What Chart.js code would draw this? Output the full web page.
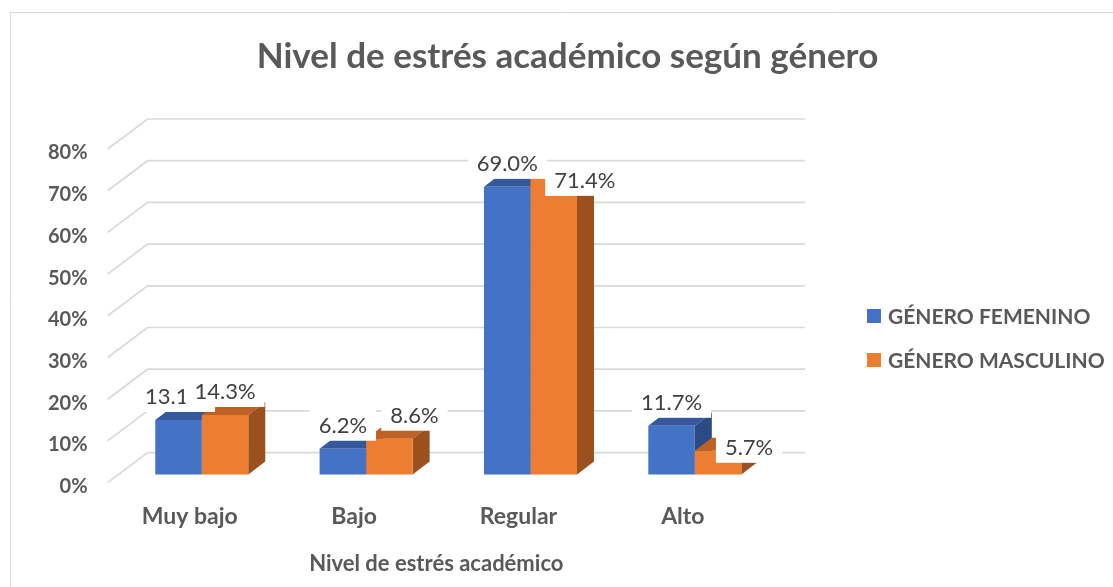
<!DOCTYPE html>
<html>
<head>
<meta charset="utf-8">
<script src="https://cdn.jsdelivr.net/npm/chart.js@4.4.1/dist/chart.umd.min.js"></script>
<style>
  html, body { margin: 0; padding: 0; background: #fff; }
</style>
</head>
<body>
<canvas id="chart" width="1113" height="587"></canvas>
<script>
const categories = ['Muy bajo', 'Bajo', 'Regular', 'Alto'];
const femenino = [13.1, 6.2, 69.0, 11.7];
const masculino = [14.3, 8.6, 71.4, 5.7];
const yTicks = [0, 10, 20, 30, 40, 50, 60, 70, 80];

// where the value labels sit, relative to the top front edge of each bar
const labelDx = [[-3, 0, 0, 0], [0, 25, 31, 31]];
const labelDy = [[-24, -24, -24, -24], [-24, -24, 3, -4]];

const FONT = 'Lato, "Open Sans", sans-serif';
const GREY = '#595959';

// fake 3D: bar front offset, bar depth, wall depth
const front = { x: 12, y: -8 };
const bar = { x: 17, y: -13 };
const wall = { x: 40, y: -30 };

const shades = [
    { face: '#4472C4', top: '#34589b', side: '#2b4b85' },
    { face: '#ED7D31', top: '#bf6124', side: '#9b501e' }
];

const poly = (ctx, pts, color) => {
    ctx.beginPath();
    ctx.moveTo(pts[0][0], pts[0][1]);
    pts.slice(1).forEach(p => ctx.lineTo(p[0], p[1]));
    ctx.closePath();
    ctx.fillStyle = color;
    ctx.fill();
};

const threeD = {
    id: 'threeD',
    beforeDraw(chart) {
        const { ctx } = chart;
        ctx.save();
        ctx.fillStyle = '#fff';
        ctx.fillRect(0, 0, chart.width, chart.height);
        ctx.strokeStyle = '#d9d9d9';
        ctx.lineWidth = 1;
        ctx.beginPath();
        ctx.moveTo(10.5, chart.height);
        ctx.lineTo(10.5, 12.5);
        ctx.lineTo(chart.width, 12.5);
        ctx.stroke();
        ctx.restore();
    },
    beforeDatasetsDraw(chart) {
        const { ctx, chartArea: a } = chart;
        const ys = chart.scales.y;
        ctx.save();
        ctx.strokeStyle = '#d9d9d9';
        ctx.lineWidth = 1.7;
        ys.ticks.forEach(t => {
            const py = ys.getPixelForValue(t.value);
            ctx.beginPath();
            ctx.moveTo(a.left, py);
            ctx.lineTo(a.left + wall.x, py + wall.y);
            ctx.lineTo(a.right + wall.x, py + wall.y);
            ctx.stroke();
        });
        // tops and sides, blue before orange so the right one ends up in front
        categories.forEach((c, j) => {
            chart.data.datasets.forEach((ds, i) => {
                const el = chart.getDatasetMeta(i).data[j];
                const p = el.getProps(['x', 'y', 'base', 'width'], true);
                const L = p.x - p.width / 2 + front.x;
                const R = p.x + p.width / 2 + front.x;
                const T = p.y + front.y;
                const B = p.base + front.y;
                poly(ctx, [[L, T], [L + bar.x, T + bar.y], [R + bar.x, T + bar.y], [R, T]], shades[i].top);
                poly(ctx, [[R, T], [R + bar.x, T + bar.y], [R + bar.x, B + bar.y], [R, B]], shades[i].side);
            });
        });
        ctx.restore();
        ctx.save();
        ctx.translate(front.x, front.y);
    },
    afterDatasetsDraw(chart) {
        const { ctx } = chart;
        ctx.restore();
        ctx.save();
        ctx.font = '22px ' + FONT;
        ctx.textAlign = 'center';
        ctx.textBaseline = 'middle';
        chart.data.datasets.forEach((ds, i) => {
            chart.getDatasetMeta(i).data.forEach((el, j) => {
                const p = el.getProps(['x', 'y'], true);
                const txt = ds.data[j].toFixed(1) + '%';
                const cx = p.x + front.x + labelDx[i][j];
                const cy = p.y + front.y + labelDy[i][j];
                const w = ctx.measureText(txt).width + 18;
                ctx.fillStyle = '#fff';
                ctx.fillRect(cx - w / 2, cy - 17, w, 33);
                ctx.fillStyle = '#404040';
                ctx.fillText(txt, cx, cy + 1);
            });
        });
        ctx.restore();
    },
    afterDraw(chart) {
        const { ctx } = chart;
        ctx.save();
        ctx.font = 'bold 21px ' + FONT;
        ctx.textBaseline = 'middle';
        chart.data.datasets.forEach((ds, i) => {
            const y = 316 + i * 44;
            ctx.fillStyle = ds.backgroundColor;
            ctx.fillRect(867, y - 7, 14, 14);
            ctx.fillStyle = GREY;
            ctx.fillText(ds.label, 888, y + 1);
        });
        ctx.restore();
    }
};

new Chart(document.getElementById('chart'), {
    type: 'bar',
    data: {
        labels: categories,
        datasets: [
            { label: 'GÉNERO FEMENINO', data: femenino, backgroundColor: shades[0].face, clip: false },
            { label: 'GÉNERO MASCULINO', data: masculino, backgroundColor: shades[1].face, clip: false }
        ]
    },
    options: {
        responsive: false,
        animation: false,
        devicePixelRatio: 1,
        categoryPercentage: 0.566,
        barPercentage: 1,
        layout: { padding: { left: 28, right: 6, top: 0, bottom: 6 } },
        plugins: {
            legend: { display: false },
            tooltip: { enabled: false },
            title: {
                display: true,
                text: 'Nivel de estrés académico según género',
                color: GREY,
                font: { family: FONT, size: 35, weight: 'bold', lineHeight: 1.2 },
                padding: { top: 36, bottom: 71 }
            }
        },
        scales: {
            x: {
                grid: { display: false, drawTicks: false },
                border: { display: false },
                ticks: { color: GREY, padding: 20.2, font: { family: FONT, size: 23, weight: 'bold' } },
                title: {
                    display: true,
                    text: 'Nivel de estrés académico',
                    color: GREY,
                    font: { family: FONT, size: 22, weight: 'bold', lineHeight: 1.2 },
                    padding: { top: 0, bottom: 4 }
                }
            },
            y: {
                min: 0,
                max: 80,
                afterBuildTicks: scale => { scale.ticks = yTicks.map(v => ({ value: v })); },
                grid: { display: false, drawTicks: false },
                border: { display: false },
                ticks: {
                    color: GREY,
                    padding: 20,
                    labelOffset: 4,
                    font: { family: FONT, size: 20, weight: 'bold' },
                    callback: v => v + '%'
                }
            },
            // empty column on the right that leaves room for the legend
            legendSpace: {
                type: 'linear',
                position: 'right',
                grid: { display: false, drawTicks: false },
                border: { display: false },
                ticks: { display: false },
                afterFit: scale => { scale.width = 342; }
            }
        }
    },
    plugins: [threeD]
});
</script>
</body>
</html>
